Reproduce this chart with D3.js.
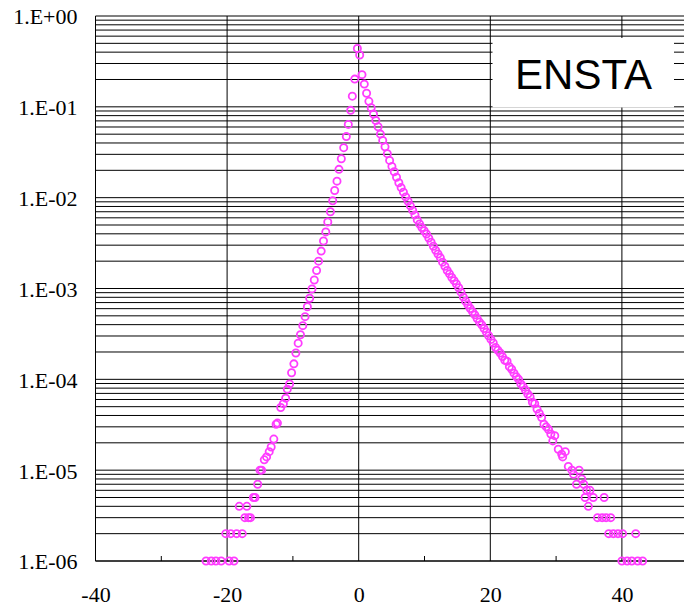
<!DOCTYPE html>
<html>
<head>
<meta charset="utf-8">
<script src="https://cdn.jsdelivr.net/npm/d3@7"></script>
<style>
  html, body { margin: 0; padding: 0; background: #fff; }
  svg { display: block; }
</style>
</head>
<body>
<svg id="chart" width="684" height="608"></svg>
<script>
// Probability density of the measured increments (log scale), core + tails.

// Left side of the distribution: [x, density]
const leftBranch = [
  [-0.2, 0.44], [-0.6, 0.202], [-0.97, 0.131], [-1.22, 0.0915], [-1.58, 0.064],
  [-1.88, 0.047], [-2.28, 0.0355], [-2.64, 0.0268], [-3.0, 0.0205], [-3.3, 0.0152],
  [-3.65, 0.0120], [-3.95, 0.00925], [-4.3, 0.0070], [-4.7, 0.0054], [-5.0, 0.0042],
  [-5.35, 0.00333], [-5.7, 0.00258], [-6.1, 0.0020], [-6.4, 0.00158], [-6.75, 0.00124],
  [-7.1, 0.00099], [-7.45, 0.00078], [-7.8, 0.00063], [-8.15, 0.00049], [-8.5, 0.00039],
  [-8.85, 0.00031], [-9.2, 0.00025], [-9.55, 0.000195], [-9.85, 0.000148], [-10.2, 0.000118],
  [-10.5, 8.9e-5], [-10.85, 7.8e-5], [-11.1, 6.2e-5], [-11.45, 5.4e-5], [-11.85, 4.9e-5],
  [-12.35, 3.3e-5], [-12.55, 3.2e-5], [-12.9, 2.2e-5], [-13.3, 1.8e-5], [-13.6, 1.6e-5],
  [-14.0, 1.4e-5], [-14.35, 1.3e-5], [-14.75, 1.0e-5], [-15.0, 1.0e-5]
];

// Sparse left tail (single counts)
const leftTail = [
  [-15.35, 7e-6], [-15.75, 5e-6], [-16.0, 5e-6], [-16.45, 3e-6], [-16.75, 3e-6],
  [-17.0, 4e-6], [-17.3, 3e-6], [-18.15, 4e-6],
  [-17.7, 2e-6], [-18.55, 2e-6], [-19.45, 2e-6], [-20.2, 2e-6],
  [-18.95, 1e-6], [-19.7, 1e-6], [-20.9, 1e-6], [-21.7, 1e-6], [-22.4, 1e-6], [-23.2, 1e-6]
];

// Right side of the distribution
const rightBranch = [
  [0.15, 0.372], [0.5, 0.226], [0.85, 0.178], [1.2, 0.141], [1.55, 0.115],
  [1.9, 0.0977], [2.25, 0.0832], [2.6, 0.0708], [2.95, 0.0603], [3.3, 0.0501],
  [3.65, 0.0427], [4.0, 0.0363], [4.35, 0.0305], [4.7, 0.0257], [5.05, 0.0221],
  [5.4, 0.0193], [5.75, 0.0168], [6.1, 0.0146], [6.45, 0.0129], [6.8, 0.0115],
  [7.15, 0.0102], [7.5, 0.00912], [7.85, 0.00813], [8.2, 0.00724], [8.55, 0.00646],
  [8.9, 0.00569], [9.25, 0.00513], [9.6, 0.00468], [9.95, 0.00432], [10.3, 0.00398],
  [10.65, 0.00359], [11.0, 0.00324], [11.35, 0.00292], [11.7, 0.00263], [12.05, 0.0024],
  [12.4, 0.00219], [12.75, 0.00195], [13.1, 0.00176], [13.45, 0.00158], [13.8, 0.00145],
  [14.15, 0.00132], [14.5, 0.00122], [14.85, 0.00112], [15.2, 0.00102], [15.55, 0.000912],
  [15.9, 0.000804], [16.25, 0.000724], [16.6, 0.000661], [16.95, 0.000603], [17.3, 0.000556],
  [17.65, 0.000513], [18.0, 0.000468], [18.35, 0.000427], [18.7, 0.000398], [19.05, 0.000363],
  [19.4, 0.000331], [19.75, 0.000302], [20.1, 0.000275], [20.45, 0.000251], [20.8, 0.000224],
  [21.15, 0.000209], [21.5, 0.000195], [21.85, 0.000178], [22.2, 0.000162], [22.55, 0.000158],
  [22.9, 0.000138], [23.25, 0.000129], [23.6, 0.000117], [23.95, 0.000107], [24.3, 0.0001],
  [24.65, 8.9e-5], [25.0, 8.3e-5], [25.35, 7.6e-5], [25.7, 6.9e-5], [26.05, 6.4e-5],
  [26.4, 5.6e-5], [26.75, 5.4e-5], [27.1, 4.7e-5], [27.45, 4.2e-5], [27.8, 3.8e-5],
  [28.15, 3.2e-5], [28.5, 3.0e-5], [28.85, 2.8e-5], [29.2, 2.5e-5]
];

// Sparse right tail
const rightTail = [
  [29.5, 2.1e-5], [29.8, 2.4e-5], [30.33, 1.7e-5], [30.85, 1.5e-5], [31.0, 1.4e-5],
  [31.4, 1.6e-5], [31.86, 1.1e-5], [32.4, 1.0e-5], [32.65, 9e-6], [33.1, 7e-6],
  [33.5, 1.0e-5], [33.9, 8e-6], [34.2, 7e-6], [34.4, 5e-6], [34.65, 6e-6],
  [34.9, 4e-6], [35.15, 6e-6], [35.65, 5e-6], [37.3, 5e-6],
  [36.3, 3e-6], [37.0, 3e-6], [37.6, 3e-6], [38.3, 3e-6],
  [38.0, 2e-6], [38.7, 2e-6], [39.4, 2e-6], [40.1, 2e-6], [42.1, 2e-6],
  [40.0, 1e-6], [40.8, 1e-6], [41.5, 1e-6], [42.4, 1e-6], [43.15, 1e-6]
];

// Axis ticks
const xMajorTicks = [-40, -20, 0, 20, 40];
const xMinorTicks = [-30, -10, 10, 30, 50];
const yDecades = [1e-6, 1e-5, 1e-4, 1e-3, 1e-2, 1e-1, 1];
const yTickLabels = ["1.E-06", "1.E-05", "1.E-04", "1.E-03", "1.E-02", "1.E-01", "1.E+00"];
const legendLabel = "ENSTA";

const svg = d3.select("#chart");
const plotLeft = 95.5, plotRight = 687.7, plotTop = 16, plotBottom = 561;

const x = d3.scaleLinear().domain([-40, 50]).range([plotLeft, plotRight]);
const y = d3.scaleLog().domain([1e-6, 1]).range([plotBottom, plotTop]);

// Horizontal grid at every 1..9 x 10^k
const yGrid = [];
yDecades.slice(0, -1).forEach(d => { for (let k = 1; k <= 9; k++) yGrid.push(d * k); });
yGrid.push(1);

const grid = svg.append("g").attr("stroke", "#000").attr("stroke-width", 1);
grid.selectAll("line.h").data(yGrid).join("line")
  .attr("class", "h")
  .attr("x1", plotLeft).attr("x2", plotRight)
  .attr("y1", d => y(d)).attr("y2", d => y(d));

grid.selectAll("line.v").data(xMajorTicks.filter(v => v !== -40)).join("line")
  .attr("class", "v")
  .attr("x1", d => x(d)).attr("x2", d => x(d))
  .attr("y1", plotTop).attr("y2", plotBottom);

// Axis lines and minor ticks
grid.append("line").attr("x1", plotLeft).attr("x2", plotLeft).attr("y1", plotTop).attr("y2", plotBottom);
grid.append("line").attr("x1", plotLeft).attr("x2", plotRight).attr("y1", plotBottom).attr("y2", plotBottom);
grid.selectAll("line.m").data(xMinorTicks).join("line")
  .attr("class", "m")
  .attr("x1", d => x(d)).attr("x2", d => x(d))
  .attr("y1", plotBottom - 5).attr("y2", plotBottom);

// Tick labels
const yAxis = d3.axisLeft(y).tickValues(yDecades)
  .tickFormat((d, i) => yTickLabels[i]).tickSize(0).tickPadding(18);
const gy = svg.append("g").attr("transform", `translate(${plotLeft},0)`).call(yAxis);
gy.select(".domain").remove();
gy.selectAll("text")
  .attr("font-family", "'Liberation Serif', 'Times New Roman', serif")
  .attr("font-size", 22).attr("fill", "#000").attr("dy", "0.36em");

const xAxis = d3.axisBottom(x).tickValues(xMajorTicks).tickFormat(d3.format("d"))
  .tickSize(0).tickPadding(25);
const gx = svg.append("g").attr("transform", `translate(0,${plotBottom})`).call(xAxis);
gx.select(".domain").remove();
gx.selectAll("text")
  .attr("font-family", "'Liberation Serif', 'Times New Roman', serif")
  .attr("font-size", 22).attr("fill", "#000")
  .text(d => d < 0 ? "-" + Math.abs(d) : String(d));

// Legend box
svg.append("rect")
  .attr("x", 492.5).attr("y", 38).attr("width", 181.5).attr("height", 69.5)
  .attr("fill", "#fff");
svg.append("text")
  .attr("x", 583.5).attr("y", 89.3)
  .attr("text-anchor", "middle")
  .attr("font-family", "'Liberation Sans', Arial, sans-serif")
  .attr("font-size", 42).attr("fill", "#000")
  .text(legendLabel);

// Markers
const allPoints = [...leftTail, ...leftBranch, ...rightBranch, ...rightTail];
svg.append("g")
  .selectAll("circle").data(allPoints).join("circle")
  .attr("cx", d => x(d[0])).attr("cy", d => y(d[1]))
  .attr("r", 3.6)
  .attr("fill", "none")
  .attr("stroke", "#ff3cff")
  .attr("stroke-width", 1.8);
</script>
</body>
</html>
